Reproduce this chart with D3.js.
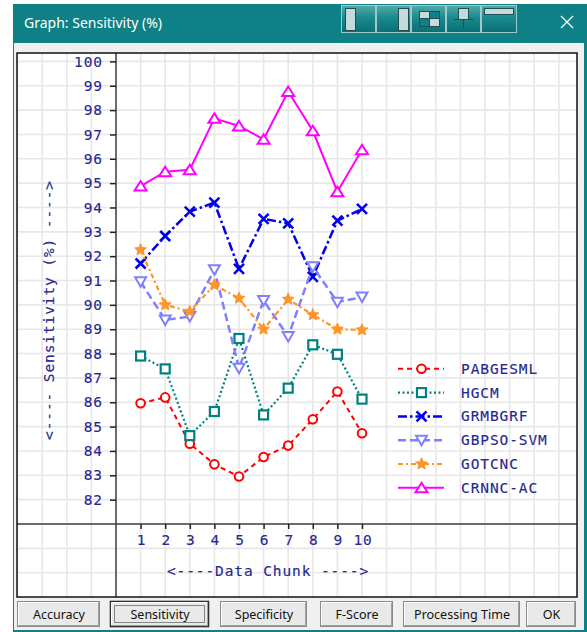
<!DOCTYPE html>
<html lang="en">
<head>
<meta charset="UTF-8">
<title>Graph: Sensitivity (%)</title>
<script src="https://d3js.org/d3.v7.min.js"></script>
<style>
  body { margin: 0; background: #fff; }
  svg { display: block; }
  .mono { font-family: "DejaVu Sans Mono", monospace; font-size: 14.5px; fill: #28288f; letter-spacing: 0.9px; stroke: #28288f; stroke-width: 0.15px; }
  .ui { font-family: "Noto Sans", "Open Sans", sans-serif; }
</style>
</head>
<body>
<svg width="587" height="632"></svg>
<script>
  // data
  const chunks = [1, 2, 3, 4, 5, 6, 7, 8, 9, 10];
  const yTicks = d3.range(82, 101);
  const seriesNames = ["PABGESML", "HGCM", "GRMBGRF", "GBPSO-SVM", "GOTCNC", "CRNNC-AC"];
  const pabgesml = [85.96, 86.2, 84.3, 83.45, 82.95, 83.75, 84.22, 85.3, 86.44, 84.73];
  const hgcm     = [87.9, 87.37, 84.63, 85.62, 88.62, 85.48, 86.58, 88.36, 87.97, 86.13];
  const grmbgrf  = [91.7, 92.83, 93.83, 94.2, 91.48, 93.53, 93.35, 91.15, 93.46, 93.94];
  const gbpsoSvm = [90.95, 89.38, 89.52, 91.44, 87.4, 90.18, 88.7, 91.57, 90.11, 90.32];
  const gotcnc   = [92.26, 90.0, 89.73, 90.82, 90.27, 89.0, 90.23, 89.59, 89.0, 88.97];
  const crnncAc  = [94.88, 95.47, 95.55, 97.66, 97.35, 96.8, 98.76, 97.15, 94.65, 96.37];
  const seriesValues = [pabgesml, hgcm, grmbgrf, gbpsoSvm, gotcnc, crnncAc];
  const buttonLabels = ["Accuracy", "Sensitivity", "Specificity", "F-Score", "Processing Time", "OK"];

  const styles = {
    "PABGESML":  { color: "#ff0000", dash: "5,4", width: 2, marker: "circle" },
    "HGCM":      { color: "#008080", dash: "2,2.5", width: 2.2, marker: "square" },
    "GRMBGRF":   { color: "#0000ee", dash: "9,3,2.5,3", width: 2.5, marker: "cross" },
    "GBPSO-SVM": { color: "#8080ff", dash: "8,4", width: 2.5, marker: "tridown" },
    "GOTCNC":    { color: "#ff9428", dash: "5,3,2,3", width: 2.2, marker: "star" },
    "CRNNC-AC":  { color: "#ff00ff", dash: null, width: 2, marker: "triup" }
  };

  const svg = d3.select("svg");
  const teal = "#0d8185";

  // window frame
  svg.append("rect").attr("x", 13).attr("y", 4).attr("width", 574).attr("height", 628).attr("fill", teal);
  svg.append("rect").attr("x", 14).attr("y", 43).attr("width", 570).attr("height", 587).attr("fill", "#f0f0f0");

  svg.append("text").attr("class", "ui")
    .attr("x", 24).attr("y", 28)
    .attr("fill", "#fff").attr("font-size", 14)
    .text("Graph: Sensitivity (%)");

  // title bar buttons
  const defs = svg.append("defs");
  const grad = defs.append("linearGradient").attr("id", "tb").attr("x1", 0).attr("y1", 0).attr("x2", 0).attr("y2", 1);
  grad.append("stop").attr("offset", "0%").attr("stop-color", "#55a9ab");
  grad.append("stop").attr("offset", "45%").attr("stop-color", "#1b8a8d");
  grad.append("stop").attr("offset", "100%").attr("stop-color", "#0a6f73");
  const tbX = [341, 376, 411, 446, 481, 517];
  const tb = svg.append("g");
  for (let i = 0; i < 5; i++) {
    tb.append("rect").attr("x", tbX[i] + 0.5).attr("y", 5.5).attr("width", tbX[i + 1] - tbX[i] - 1).attr("height", 27)
      .attr("fill", "url(#tb)").attr("stroke", "#9ccaca").attr("stroke-width", 1);
  }
  const ic = { fill: "#c5dada", stroke: "#1f4f50" };
  tb.append("rect").attr("x", 345.5).attr("y", 8.5).attr("width", 10).attr("height", 22).attr("fill", ic.fill).attr("stroke", ic.stroke);
  tb.append("rect").attr("x", 398.5).attr("y", 8.5).attr("width", 10).attr("height", 22).attr("fill", ic.fill).attr("stroke", ic.stroke);
  tb.append("rect").attr("x", 419.5).attr("y", 11.5).attr("width", 20).attr("height", 15).attr("fill", teal).attr("stroke", ic.stroke);
  tb.append("rect").attr("x", 419.5).attr("y", 11.5).attr("width", 10).attr("height", 7).attr("fill", ic.fill).attr("stroke", ic.stroke);
  tb.append("rect").attr("x", 429.5).attr("y", 18.5).attr("width", 10).attr("height", 8).attr("fill", ic.fill).attr("stroke", ic.stroke);
  tb.append("rect").attr("x", 458.5).attr("y", 8.5).attr("width", 10).attr("height", 11).attr("fill", ic.fill).attr("stroke", ic.stroke);
  tb.append("line").attr("x1", 463.5).attr("x2", 463.5).attr("y1", 19.5).attr("y2", 28).attr("stroke", ic.stroke);
  tb.append("line").attr("x1", 454).attr("x2", 473).attr("y1", 19.5).attr("y2", 19.5).attr("stroke", ic.stroke);
  tb.append("rect").attr("x", 484.5).attr("y", 8.5).attr("width", 29).attr("height", 6).attr("fill", ic.fill).attr("stroke", ic.stroke);

  // close X
  svg.append("path").attr("d", "M561,16 L573,28 M573,16 L561,28").attr("stroke", "#fff").attr("stroke-width", 1.3);

  // plot box
  const box = { x0: 17, y0: 53, x1: 577, y1: 597 };
  svg.append("rect").attr("x", box.x0).attr("y", box.y0).attr("width", box.x1 - box.x0).attr("height", box.y1 - box.y0)
    .attr("fill", "#fff");

  const x = d3.scaleLinear().domain([0, 10]).range([116, 362]);
  const y = d3.scaleLinear().domain([81, 100]).range([524, 61.4]);

  const clip = defs.append("clipPath").attr("id", "boxclip");
  clip.append("rect").attr("x", box.x0).attr("y", box.y0).attr("width", box.x1 - box.x0).attr("height", box.y1 - box.y0);

  const grid = svg.append("g").attr("clip-path", "url(#boxclip)").attr("stroke", "#e7e7e7").attr("stroke-width", 1.6);
  grid.selectAll("line.v").data(d3.range(-4, 19)).join("line").attr("class", "v")
    .attr("x1", d => x(d)).attr("x2", d => x(d)).attr("y1", box.y0).attr("y2", box.y1);
  grid.selectAll("line.h").data(d3.range(79, 101)).join("line").attr("class", "h")
    .attr("x1", box.x0).attr("x2", box.x1).attr("y1", d => y(d)).attr("y2", d => y(d));

  // axis frame lines
  svg.append("line").attr("x1", x(0)).attr("x2", x(0)).attr("y1", box.y0).attr("y2", box.y1).attr("stroke", "#404040").attr("stroke-width", 1.5);
  svg.append("line").attr("x1", box.x0).attr("x2", box.x1).attr("y1", y(81)).attr("y2", y(81)).attr("stroke", "#404040").attr("stroke-width", 1.5);
  svg.append("rect").attr("x", box.x0).attr("y", box.y0).attr("width", box.x1 - box.x0).attr("height", box.y1 - box.y0)
    .attr("fill", "none").attr("stroke", "#111").attr("stroke-width", 1.5);

  // axes
  const yAxis = svg.append("g").attr("transform", `translate(${x(0)},0)`)
    .call(d3.axisLeft(y).tickValues(yTicks).tickSize(6).tickPadding(7));
  const xAxis = svg.append("g").attr("transform", `translate(0,${y(81)})`)
    .call(d3.axisBottom(x).tickValues(chunks).tickSize(5).tickPadding(6));
  [yAxis, xAxis].forEach(a => {
    a.select(".domain").remove();
    a.selectAll(".tick line").attr("stroke", "#222").attr("stroke-width", 1.5);
    a.selectAll(".tick text").attr("class", "mono").attr("font-family", null).attr("font-size", null).attr("fill", null);
  });
  xAxis.selectAll(".tick text").attr("dx", "0.5px");

  svg.append("text").attr("class", "mono").attr("text-anchor", "middle")
    .attr("transform", `translate(54,${310}) rotate(-90)`)
    .text("<---- Sensitivity (%) ---->");
  svg.append("text").attr("class", "mono").attr("text-anchor", "middle")
    .attr("x", 268).attr("y", 576)
    .text("<----Data Chunk ---->");

  // markers
  function marker(g, type, color) {
    if (type === "circle") {
      g.append("circle").attr("r", 4.3).attr("fill", "#fff").attr("stroke", color).attr("stroke-width", 2);
    } else if (type === "square") {
      g.append("rect").attr("x", -4.5).attr("y", -4.5).attr("width", 9).attr("height", 9)
        .attr("fill", "#fff").attr("stroke", color).attr("stroke-width", 2.2);
    } else if (type === "cross") {
      g.append("path").attr("d", "M-5,-5L5,5M5,-5L-5,5").attr("stroke", color).attr("stroke-width", 2.6);
    } else if (type === "tridown") {
      g.append("path").attr("d", "M-5.5,-4.5L5.5,-4.5L0,5Z").attr("fill", "#fff").attr("stroke", color).attr("stroke-width", 2);
    } else if (type === "star") {
      const pts = d3.range(10).map(i => {
        const r = i % 2 ? 2.8 : 6.2, a = -Math.PI / 2 + i * Math.PI / 5;
        return [r * Math.cos(a), r * Math.sin(a)];
      });
      g.append("path").attr("d", "M" + pts.join("L") + "Z").attr("fill", color).attr("stroke", color).attr("stroke-width", 1);
    } else if (type === "triup") {
      g.append("path").attr("d", "M0,-5L6,4.5L-6,4.5Z").attr("fill", "#fff").attr("stroke", color).attr("stroke-width", 2);
    }
  }

  const line = d3.line().x((d, i) => x(chunks[i])).y(d => y(d));

  seriesNames.forEach((name, k) => {
    const s = styles[name];
    const vals = seriesValues[k];
    svg.append("path").attr("d", line(vals)).attr("fill", "none")
      .attr("stroke", s.color).attr("stroke-width", s.width)
      .attr("stroke-dasharray", s.dash);
    vals.forEach((v, i) => {
      marker(svg.append("g").attr("transform", `translate(${x(chunks[i])},${y(v)})`), s.marker, s.color);
    });
  });

  // legend
  const legend = svg.append("g");
  seriesNames.forEach((name, k) => {
    const s = styles[name];
    const ly = 368.8 + k * 23.8;
    legend.append("line").attr("x1", 398).attr("x2", 444).attr("y1", ly).attr("y2", ly)
      .attr("stroke", s.color).attr("stroke-width", s.width).attr("stroke-dasharray", s.dash);
    marker(legend.append("g").attr("transform", `translate(421.5,${ly})`), s.marker, s.color);
    legend.append("text").attr("class", "mono").attr("x", 461).attr("y", ly + 5).text(name);
  });

  // dialog buttons
  const btnX = [[17, 99], [110, 208], [220, 306], [320, 392], [403, 519], [526, 575]];
  buttonLabels.forEach((label, i) => {
    const [a, b] = btnX[i];
    const g = svg.append("g");
    g.append("rect").attr("x", a + 0.5).attr("y", 601.5).attr("width", b - a).attr("height", 25)
      .attr("fill", "#e9e9e9").attr("stroke", i === 1 ? "#303030" : "#8a8a8a").attr("stroke-width", i === 1 ? 1.6 : 1);
    g.append("path").attr("d", `M${a + 1.5},${625} L${a + 1.5},${602.5} L${b - 0.5},${602.5}`)
      .attr("fill", "none").attr("stroke", "#fff");
    g.append("path").attr("d", `M${a + 1.5},${625.5} L${b - 0.5},${625.5} L${b - 0.5},${602.5}`)
      .attr("fill", "none").attr("stroke", "#a0a0a0");
    if (i === 1) {
      g.append("rect").attr("x", a + 4.5).attr("y", 605.5).attr("width", b - a - 8).attr("height", 17)
        .attr("fill", "none").attr("stroke", "#222").attr("stroke-dasharray", "1,1");
    }
    g.append("text").attr("class", "ui").attr("x", (a + b) / 2 + 1).attr("y", 618.5)
      .attr("text-anchor", "middle").attr("font-size", 12.5).attr("fill", "#111").text(label);
  });
</script>
</body>
</html>
